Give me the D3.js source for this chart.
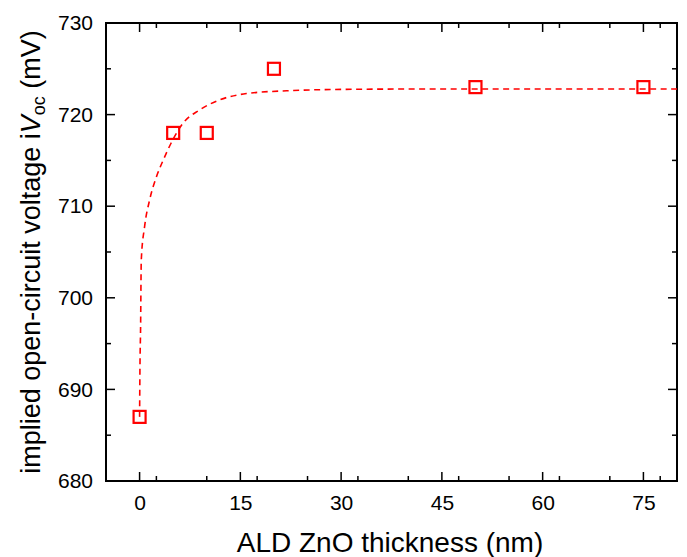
<!DOCTYPE html>
<html><head><meta charset="utf-8">
<script src="https://cdn.jsdelivr.net/npm/d3@7"></script>
<style>body{margin:0;background:#fff}svg{display:block}text{font-family:"Liberation Sans",Arial,sans-serif}</style>
</head><body>
<svg id="c" width="687" height="557"></svg>
<script>
const thickness = [0, 5, 10, 20, 50, 75];
const ivoc = [687, 718, 718, 725, 723, 723];
const fitX = [0, 0.05, 0.15, 0.25, 0.75, 1.5, 2.5, 3.5, 4.7, 6.45, 8.9, 11.9, 15.9, 21.9, 30, 45, 60, 80];
const fitY = [687, 692, 696.8, 704.1, 707.8, 710.7, 713.2, 715.0, 716.9, 719.05, 720.5, 721.6, 722.3, 722.6, 722.75, 722.8, 722.8, 722.8];
const xTicks = [0, 15, 30, 45, 60, 75];
const yTicks = [680, 690, 700, 710, 720, 730];

const m = {l:106, r:677, t:23, b:481};
const svg = d3.select("#c");
const x = d3.scaleLinear().domain([-5, 80]).range([m.l, m.r]);
const y = d3.scaleLinear().domain([680, 730]).range([m.b, m.t]);
const xMinor = d3.range(-5, 80.1, 7.5).filter(v => v > -5 && v < 80 && !xTicks.includes(v));
const yMinor = d3.range(685, 730, 10);

// bottom
const gb = svg.append("g").attr("transform", `translate(0,${m.b})`);
gb.call(d3.axisBottom(x).tickValues(xTicks).tickSize(0).tickFormat(d3.format("d")));
gb.select(".domain").remove();
gb.selectAll(".tick text").attr("font-size", 21).attr("fill", "#000").attr("y", 29).attr("dy", 0);
gb.selectAll(".maj").data(xTicks).join("line").attr("x1", d=>x(d)).attr("x2", d=>x(d)).attr("y1", 0).attr("y2", -9).attr("stroke","#000").attr("stroke-width",1.5);
gb.selectAll(".min").data(xMinor).join("line").attr("x1", d=>x(d)).attr("x2", d=>x(d)).attr("y1", 0).attr("y2", -5).attr("stroke","#000").attr("stroke-width",1.5);
// top
const gt = svg.append("g").attr("transform", `translate(0,${m.t})`);
gt.selectAll(".maj").data(xTicks).join("line").attr("x1", d=>x(d)).attr("x2", d=>x(d)).attr("y1", 0).attr("y2", 9).attr("stroke","#000").attr("stroke-width",1.5);
gt.selectAll(".min").data(xMinor).join("line").attr("x1", d=>x(d)).attr("x2", d=>x(d)).attr("y1", 0).attr("y2", 5).attr("stroke","#000").attr("stroke-width",1.5);
// left
const gl = svg.append("g").attr("transform", `translate(${m.l},0)`);
gl.call(d3.axisLeft(y).tickValues(yTicks).tickSize(0).tickPadding(13).tickFormat(d3.format("d")));
gl.select(".domain").remove();
gl.selectAll(".tick text").attr("font-size", 21).attr("fill", "#000");
gl.selectAll(".maj").data(yTicks).join("line").attr("y1", d=>y(d)).attr("y2", d=>y(d)).attr("x1", 0).attr("x2", 9).attr("stroke","#000").attr("stroke-width",1.5);
gl.selectAll(".min").data(yMinor).join("line").attr("y1", d=>y(d)).attr("y2", d=>y(d)).attr("x1", 0).attr("x2", 5).attr("stroke","#000").attr("stroke-width",1.5);
// right
const gr = svg.append("g").attr("transform", `translate(${m.r},0)`);
gr.selectAll(".maj").data(yTicks).join("line").attr("y1", d=>y(d)).attr("y2", d=>y(d)).attr("x1", 0).attr("x2", -9).attr("stroke","#000").attr("stroke-width",1.5);
gr.selectAll(".min").data(yMinor).join("line").attr("y1", d=>y(d)).attr("y2", d=>y(d)).attr("x1", 0).attr("x2", -5).attr("stroke","#000").attr("stroke-width",1.5);
// frame
svg.append("rect").attr("x", m.l).attr("y", m.t).attr("width", m.r-m.l).attr("height", m.b-m.t).attr("fill","none").attr("stroke","#000").attr("stroke-width",2);

// fit line
const fit = fitX.map((v,i)=>[v, fitY[i]]);
svg.append("path").datum(fit)
  .attr("d", d3.line().x(d=>x(d[0])).y(d=>y(d[1])).curve(d3.curveMonotoneX))
  .attr("fill","none").attr("stroke","#ff0000").attr("stroke-width",1.6).attr("stroke-dasharray","6,4.5");

// markers
const s = 12;
svg.selectAll(".pt").data(thickness).join("rect")
  .attr("x", (d)=>x(d)-s/2).attr("y", (d,i)=>y(ivoc[i])-s/2)
  .attr("width", s).attr("height", s).attr("fill","none").attr("stroke","#ff0000").attr("stroke-width",2.2);

// axis titles
svg.append("text").attr("x", 390).attr("y", 552).attr("text-anchor","middle").attr("font-size", 28).text("ALD ZnO thickness (nm)");
const yt = svg.append("text").attr("transform", `translate(40,252) rotate(-90)`).attr("text-anchor","middle").attr("font-size", 27);
yt.append("tspan").text("implied open-circuit voltage i");
yt.append("tspan").attr("font-style","italic").text("V");
yt.append("tspan").attr("font-size", 18).attr("dy", 5).text("oc");
yt.append("tspan").attr("dy", -5).text(" (mV)");
</script>
</body></html>
